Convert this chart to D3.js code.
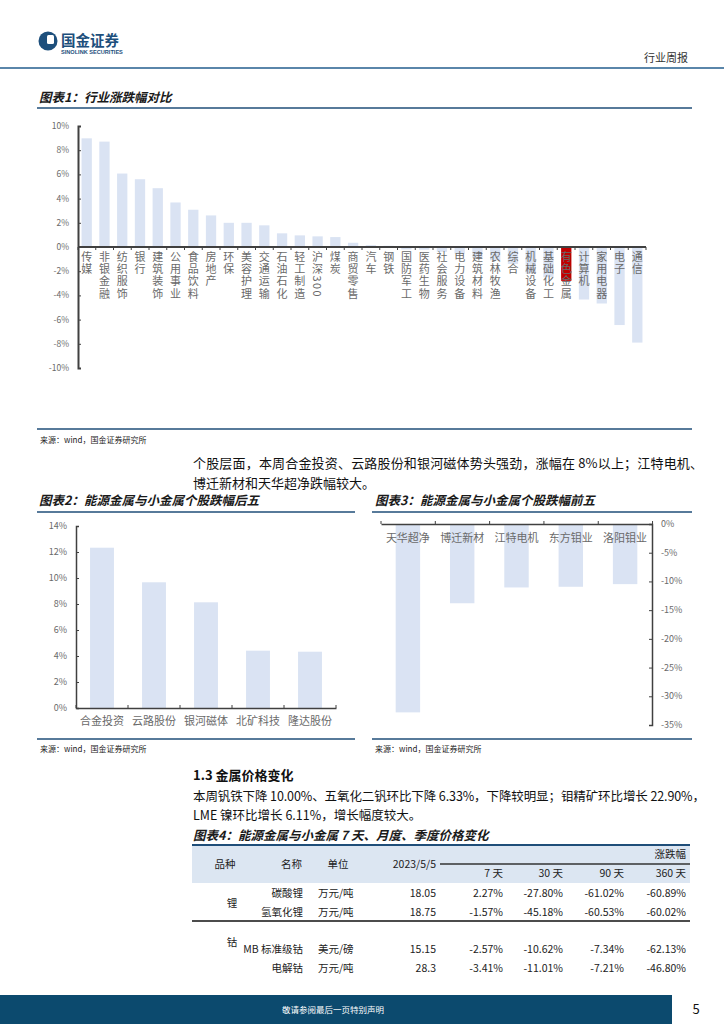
<!DOCTYPE html>
<html>
<head>
<meta charset="utf-8">
<script src="https://cdn.jsdelivr.net/npm/d3@7/dist/d3.min.js"></script>
<style>
  body { margin: 0; background: #fff; }
  svg { display: block; font-family: "Noto Sans CJK SC", "Noto Sans", sans-serif; }
  .vlab { writing-mode: vertical-rl; text-orientation: mixed; }
</style>
</head>
<body>
<div id="page"></div>
<script>
// chart 1: industry weekly change (%)
var industries = ["传媒","非银金融","纺织服饰","银行","建筑装饰","公用事业","食品饮料","房地产","环保","美容护理","交通运输","石油石化","轻工制造","沪深300","煤炭","商贸零售","汽车","钢铁","国防军工","医药生物","社会服务","电力设备","建筑材料","农林牧渔","综合","机械设备","基础化工","有色金属","计算机","家用电器","电子","通信"];
var industryChg = [8.98, 8.71, 6.07, 5.6, 4.86, 3.68, 3.08, 2.61, 2.0, 2.0, 1.79, 1.13, 0.96, 0.88, 0.82, 0.35, 0.15, 0.1, -0.2, -0.22, -0.4, -0.55, -0.85, -1.1, -1.4, -2.2, -2.5, -2.8, -4.34, -4.67, -6.45, -7.9];
var highlight = "有色金属";
var ticks1 = [-10, -8, -6, -4, -2, 0, 2, 4, 6, 8, 10];

// chart 2: top gainers
var gainers = ["合金投资","云路股份","银河磁体","北矿科技","隆达股份"];
var gainerChg = [12.33, 9.67, 8.13, 4.41, 4.33];
var ticks2 = [0, 2, 4, 6, 8, 10, 12, 14];

// chart 3: top losers
var losers = ["天华超净","博迁新材","江特电机","东方钼业","洛阳钼业"];
var loserChg = [-32.8, -13.8, -11.05, -10.93, -10.47];
var ticks3 = [0, -5, -10, -15, -20, -25, -30, -35];

// table 4
var tableHead = ["品种","名称","单位","2023/5/5","7 天","30 天","90 天","360 天"];
var tableKind = ["锂","钴"];
var tableRows = [
  ["碳酸锂","万元/吨","18.05","2.27%","-27.80%","-61.02%","-60.89%"],
  ["氢氧化锂","万元/吨","18.75","-1.57%","-45.18%","-60.53%","-60.02%"],
  ["MB 标准级钴","美元/磅","15.15","-2.57%","-10.62%","-7.34%","-62.13%"],
  ["电解钴","万元/吨","28.3","-3.41%","-11.01%","-7.21%","-46.80%"]
];

var W = 724, H = 1024;
var blue = "#dae3f3", red = "#c00000", axisC = "#404040", tickC = "#6a6a6a", navy = "#1f4e79";
var svg = d3.select("#page").append("svg").attr("width", W).attr("height", H);

// header
svg.append("circle").attr("cx", 48).attr("cy", 41).attr("r", 9.5).attr("fill", "#1d4f7c");
svg.append("rect").attr("x", 47).attr("y", 35).attr("width", 7).attr("height", 9).attr("rx", 1.5).attr("fill", "#fff");
svg.append("text").attr("x", 61).attr("y", 46).attr("font-size", 14.5).attr("font-weight", "bold").attr("fill", "#1d4f7c").text("国金证券");
svg.append("text").attr("x", 61).attr("y", 53.5).attr("font-size", 5.6).attr("font-weight", "bold").attr("fill", "#1d4f7c").attr("font-family", "Liberation Sans").text("SINOLINK SECURITIES");
svg.append("line").attr("x1", 0).attr("x2", W).attr("y1", 68).attr("y2", 68).attr("stroke", "#5a86aa").attr("stroke-width", 2.2);
svg.append("text").attr("x", 688).attr("y", 62).attr("text-anchor", "end").attr("font-size", 11).attr("fill", "#333").text("行业周报");

function title(x, y, t) {
  svg.append("text").attr("x", x).attr("y", y).attr("font-size", 12.5).attr("font-weight", "bold")
    .attr("font-style", "italic").attr("fill", "#1a1a1a").text(t);
}
function rule(x1, x2, y) {
  svg.append("line").attr("x1", x1).attr("x2", x2).attr("y1", y).attr("y2", y).attr("stroke", navy).attr("stroke-width", 1.6);
}
function source(x, y) {
  svg.append("text").attr("x", x).attr("y", y).attr("font-size", 8).attr("fill", "#222").text("来源：wind，国金证券研究所");
}

// ---------- chart 1 ----------
title(39, 102, "图表1：行业涨跌幅对比");
rule(37, 692, 108);

var x1 = d3.scaleBand().domain(industries).range([78, 646]).paddingInner(0.42).paddingOuter(0.2);
var y1 = d3.scaleLinear().domain([-10, 10]).range([368, 126]);

var g1 = svg.append("g");
g1.selectAll("rect.bar").data(industries).enter().append("rect")
  .attr("x", function(d) { return x1(d); })
  .attr("width", x1.bandwidth())
  .attr("y", function(d, i) { return y1(Math.max(0, industryChg[i])); })
  .attr("height", function(d, i) { return Math.abs(y1(industryChg[i]) - y1(0)); })
  .attr("fill", function(d) { return d == highlight ? red : blue; });

var ax1 = g1.append("g").attr("transform", "translate(78,0)")
  .call(d3.axisRight(y1).tickValues(ticks1).tickSize(3).tickFormat(""));
ax1.select(".domain").attr("stroke", axisC).attr("stroke-width", 2);
ax1.selectAll(".tick line").attr("stroke", axisC);
g1.selectAll("text.yt").data(ticks1).enter().append("text")
  .attr("x", 69).attr("y", function(d) { return y1(d) + 3; })
  .attr("text-anchor", "end").attr("font-size", 8.5).attr("fill", tickC)
  .text(function(d) { return d + "%"; });

// zero line with category boundary ticks
g1.append("line").attr("x1", 78).attr("x2", 646).attr("y1", y1(0)).attr("y2", y1(0)).attr("stroke", axisC).attr("stroke-width", 1.8);
g1.selectAll("line.bt").data(d3.range(industries.length + 1)).enter().append("line")
  .attr("x1", function(i) { return 78 + i * (568 / industries.length); })
  .attr("x2", function(i) { return 78 + i * (568 / industries.length); })
  .attr("y1", y1(0)).attr("y2", y1(0) + 3).attr("stroke", axisC);

// vertical labels
g1.selectAll("text.vlab").data(industries).enter().append("text")
  .attr("class", "vlab")
  .attr("x", function(d) { return x1(d) + x1.bandwidth() / 2; })
  .attr("y", 251)
  .attr("font-size", 11).attr("letter-spacing", 1.3).attr("fill", tickC)
  .text(function(d) { return d; });

rule(37, 692, 429);
source(40, 443);

// paragraph 1
var para1 = ["个股层面，本周合金投资、云路股份和银河磁体势头强劲，涨幅在 8%以上；江特电机、", "博迁新材和天华超净跌幅较大。"];
svg.append("text").attr("x", 193).attr("y", 468).attr("font-size", 13).attr("fill", "#111").attr("textLength", 510).text(para1[0]);
svg.append("text").attr("x", 193).attr("y", 488).attr("font-size", 13).attr("fill", "#111").text(para1[1]);

// ---------- chart 2 ----------
title(39, 505, "图表2：能源金属与小金属个股跌幅后五");
rule(37, 355, 512);
title(375, 505, "图表3：能源金属与小金属个股跌幅前五");
rule(372, 692, 512);

var x2 = d3.scaleBand().domain(gainers).range([76, 336]).paddingInner(0.54).paddingOuter(0.27);
var y2 = d3.scaleLinear().domain([0, 14]).range([708, 526]);
var g2 = svg.append("g");
g2.selectAll("rect").data(gainers).enter().append("rect")
  .attr("x", function(d) { return x2(d); }).attr("width", x2.bandwidth())
  .attr("y", function(d, i) { return y2(gainerChg[i]); })
  .attr("height", function(d, i) { return y2(0) - y2(gainerChg[i]); })
  .attr("fill", blue);
var ax2 = g2.append("g").attr("transform", "translate(76,0)")
  .call(d3.axisRight(y2).tickValues(ticks2).tickSize(3).tickFormat(""));
ax2.select(".domain").attr("stroke", axisC).attr("stroke-width", 1.5);
ax2.selectAll(".tick line").attr("stroke", axisC);
g2.selectAll("text.yt").data(ticks2).enter().append("text")
  .attr("x", 67).attr("y", function(d) { return y2(d) + 3; })
  .attr("text-anchor", "end").attr("font-size", 9).attr("fill", tickC)
  .text(function(d) { return d + "%"; });
var bx2 = g2.append("g").attr("transform", "translate(0," + y2(0) + ")")
  .call(d3.axisBottom(x2).tickSize(0).tickFormat(""));
bx2.select(".domain").attr("stroke", axisC).attr("stroke-width", 1.5);
g2.selectAll("line.bt").data(d3.range(gainers.length + 1)).enter().append("line")
  .attr("x1", function(i) { return 76 + i * x2.step(); }).attr("x2", function(i) { return 76 + i * x2.step(); })
  .attr("y1", y2(0) - 3).attr("y2", y2(0)).attr("stroke", axisC);
g2.selectAll("text.xl").data(gainers).enter().append("text")
  .attr("x", function(d) { return x2(d) + x2.bandwidth() / 2; }).attr("y", 725)
  .attr("text-anchor", "middle").attr("font-size", 11).attr("fill", tickC).text(function(d) { return d; });

rule(37, 355, 739);
source(40, 752);

// ---------- chart 3 ----------
var x3 = d3.scaleBand().domain(losers).range([381, 652]).paddingInner(0.55).paddingOuter(0.27);
var y3 = d3.scaleLinear().domain([-35, 0]).range([725, 524]);
var g3 = svg.append("g");
g3.selectAll("rect").data(losers).enter().append("rect")
  .attr("x", function(d) { return x3(d); }).attr("width", x3.bandwidth())
  .attr("y", y3(0))
  .attr("height", function(d, i) { return y3(loserChg[i]) - y3(0); })
  .attr("fill", blue);
var ax3 = g3.append("g").attr("transform", "translate(652,0)")
  .call(d3.axisLeft(y3).tickValues(ticks3).tickSize(3).tickFormat(""));
ax3.select(".domain").attr("stroke", axisC).attr("stroke-width", 1.5);
ax3.selectAll(".tick line").attr("stroke", axisC);
g3.selectAll("text.yt").data(ticks3).enter().append("text")
  .attr("x", 661).attr("y", function(d) { return y3(d) + 3; })
  .attr("font-size", 9).attr("fill", tickC)
  .text(function(d) { return d + "%"; });
var bx3 = g3.append("g").attr("transform", "translate(0," + y3(0) + ")")
  .call(d3.axisTop(x3).tickSize(0).tickFormat(""));
bx3.select(".domain").attr("stroke", axisC).attr("stroke-width", 1.5);
g3.selectAll("line.bt").data(d3.range(losers.length + 1)).enter().append("line")
  .attr("x1", function(i) { return 381 + i * x3.step(); }).attr("x2", function(i) { return 381 + i * x3.step(); })
  .attr("y1", y3(0) - 3).attr("y2", y3(0)).attr("stroke", axisC);
g3.selectAll("text.xl").data(losers).enter().append("text")
  .attr("x", function(d) { return x3(d) + x3.bandwidth() / 2; }).attr("y", 542)
  .attr("text-anchor", "middle").attr("font-size", 11).attr("fill", tickC).text(function(d) { return d; });

rule(372, 692, 739);
source(375, 752);

// ---------- section 1.3 ----------
svg.append("text").attr("x", 193).attr("y", 780).attr("font-size", 13).attr("font-weight", "bold").attr("fill", "#111").text("1.3 金属价格变化");
var para2 = ["本周钒铁下降 10.00%、五氧化二钒环比下降 6.33%，下降较明显；钼精矿环比增长 22.90%，", "LME 镍环比增长 6.11%，增长幅度较大。"];
svg.append("text").attr("x", 193).attr("y", 801).attr("font-size", 12.5).attr("fill", "#111").attr("textLength", 512).text(para2[0]);
svg.append("text").attr("x", 193).attr("y", 820).attr("font-size", 12.5).attr("fill", "#111").text(para2[1]);

title(193, 840, "图表4：能源金属与小金属 7 天、月度、季度价格变化");

// ---------- table ----------
var tL = 192, tR = 690;
svg.append("rect").attr("x", tL).attr("y", 845).attr("width", tR - tL).attr("height", 38).attr("fill", "#dce6f2");
svg.append("line").attr("x1", tL).attr("x2", tR).attr("y1", 845).attr("y2", 845).attr("stroke", navy).attr("stroke-width", 1.8);
svg.append("line").attr("x1", 440).attr("x2", tR).attr("y1", 864).attr("y2", 864).attr("stroke", "#333").attr("stroke-width", 1.3);
svg.append("line").attr("x1", tL).attr("x2", tR).attr("y1", 921).attr("y2", 921).attr("stroke", "#111").attr("stroke-width", 1.5);

var fs = 10.5;
function cell(x, y, t, anchor) {
  svg.append("text").attr("x", x).attr("y", y).attr("text-anchor", anchor).attr("font-size", fs).attr("fill", "#222").text(t);
}
cell(225, 868, tableHead[0], "middle");
cell(302, 868, tableHead[1], "end");
cell(338, 868, tableHead[2], "middle");
cell(436, 868, tableHead[3], "end");
cell(686, 858, "涨跌幅", "end");
var colR = [503, 563, 624, 686];
[4, 5, 6, 7].forEach(function(k, j) { cell(colR[j], 877, tableHead[k], "end"); });

var rowY = [897, 916, 953, 972];
tableRows.forEach(function(r, i) {
  cell(303, rowY[i], r[0], "end");
  cell(318, rowY[i], r[1], "start");
  cell(436, rowY[i], r[2], "end");
  for (var j = 0; j < 4; j++) cell(colR[j], rowY[i], r[3 + j], "end");
});
cell(232, 907, tableKind[0], "middle");
cell(232, 946, tableKind[1], "middle");

// footer
svg.append("rect").attr("x", 0).attr("y", 995).attr("width", 672).attr("height", 29).attr("fill", "#0c4a6e");
svg.append("text").attr("x", 333).attr("y", 1013).attr("text-anchor", "middle").attr("font-size", 8.5).attr("fill", "#fff").text("敬请参阅最后一页特别声明");
svg.append("text").attr("x", 696).attr("y", 1014).attr("text-anchor", "middle").attr("font-size", 13).attr("fill", "#111").text("5");
</script>
</body>
</html>
